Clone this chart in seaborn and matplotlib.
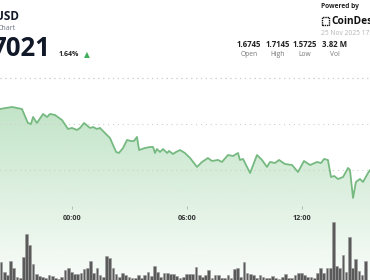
import numpy as np
import matplotlib
matplotlib.use("Agg")
import matplotlib.pyplot as plt
import matplotlib.transforms as mtransforms
from matplotlib.patches import Polygon, Rectangle
import seaborn as sns

# ---------------- data ----------------
price_hours = [-3.76, -3.13, -2.61, -2.30, -2.14, -2.03, -1.83, -1.51, -1.30, -1.15,
               -0.89, -0.52, -0.21, 0.00, 0.26, 0.42, 0.63, 0.94, 1.10, 1.30,
               1.46, 1.77, 1.98, 2.30, 2.45, 2.66, 2.87, 3.08, 3.23, 3.39,
               3.50, 3.81, 4.07, 4.23, 4.33, 4.43, 4.59, 4.75, 4.96, 5.06,
               5.27, 5.43, 5.63, 5.89, 6.16, 6.52, 6.78, 7.09, 7.30, 7.62,
               7.82, 8.14, 8.40, 8.66, 8.76, 8.92, 9.29, 9.65, 9.91, 10.17,
               10.33, 10.59, 10.80, 11.11, 11.48, 11.79, 12.10, 12.42, 12.78, 12.99,
               13.15, 13.35, 13.51, 13.67, 13.88, 14.14, 14.40, 14.50, 14.66, 14.81,
               15.02, 15.18, 15.44, 15.55]
price_values = [1.7163, 1.7185, 1.7163, 1.7011, 1.7000, 1.7076, 1.7011, 1.7109, 1.7076, 1.7109,
                1.7098, 1.7043, 1.6946, 1.6957, 1.6935, 1.6957, 1.7011, 1.6957, 1.6967, 1.6946,
                1.6957, 1.6891, 1.6848, 1.6696, 1.6685, 1.6739, 1.6826, 1.6815, 1.6815, 1.6859,
                1.6717, 1.6739, 1.6750, 1.6750, 1.6685, 1.6728, 1.6696, 1.6728, 1.6685, 1.6707,
                1.6674, 1.6696, 1.6717, 1.6685, 1.6630, 1.6533, 1.6587, 1.6630, 1.6598, 1.6609,
                1.6587, 1.6663, 1.6652, 1.6685, 1.6609, 1.6620, 1.6467, 1.6663, 1.6609, 1.6533,
                1.6587, 1.6576, 1.6609, 1.6565, 1.6554, 1.6478, 1.6598, 1.6554, 1.6587, 1.6576,
                1.6620, 1.6609, 1.6424, 1.6435, 1.6402, 1.6424, 1.6522, 1.6500, 1.6196, 1.6370,
                1.6402, 1.6370, 1.6467, 1.6500]

# volume per 10-minute bar (thousands)
vol_values = [71, 33, 20, 76, 49, 13, 7, 91, 184, 140,
              64, 23, 17, 13, 9, 20, 17, 7, 4, 13,
              40, 49, 33, 23, 23, 27, 44, 47, 76, 27,
              47, 20, 13, 96, 89, 49, 23, 13, 27, 20,
              13, 9, 7, 20, 7, 20, 31, 17, 56, 33,
              13, 27, 27, 24, 23, 17, 7, 13,
              23, 23, 23, 53, 20, 13, 20, 40, 9, 20,
              20, 9, 7, 20, 7, 43, 49, 13, 71, 27,
              23, 20, 7, 20, 13, 7, 9, 17, 9, 4,
              13, 23, 7, 7, 20, 27, 27, 20, 13, 11,
              7, 27, 47, 27, 47, 47, 232, 57, 49, 100,
              33, 173, 49, 83, 36, 20, 76]
vol_start_hour = -3.70
vol_step_hour = 1 / 6

tick_hours = [0, 6, 12]
tick_labels = ["00:00", "06:00", "12:00"]
grid_prices = [1.75, 1.70, 1.65]

stat_values = ["1.6745", "1.7145", "1.5725", "3.82 M"]
stat_labels = ["Open", "High", "Low", "Vol"]

# ---------------- figure ----------------
W, H = 370, 280
sns.set_theme(style="white")
plt.rcParams['font.family'] = ['Open Sans', 'DejaVu Sans']
fig = plt.figure(figsize=(W / 100, H / 100), dpi=100)
fig.patch.set_facecolor('white')


def fx(px):
    return px / W


def fy(py):
    return 1 - py / H


x_lo, x_hi = -72 / 19.17, (370 - 72) / 19.17
y_lo, y_hi = 1.5304, 1.8348

ax = fig.add_axes([0, 0, 1, 1])
ax.set_xlim(x_lo, x_hi)
ax.set_ylim(y_lo, y_hi)
ax.axis('off')

# gradient fill under the line
grad = np.linspace(0, 1, 256).reshape(-1, 1)
rgba = np.zeros((256, 1, 4))
rgba[..., 0] = 120 / 255
rgba[..., 1] = 195 / 255
rgba[..., 2] = 132 / 255
rgba[..., 3] = (0.05 + 0.40 * grad)[:, 0:1]
top = max(price_values)
img = ax.imshow(rgba, extent=[x_lo, x_hi, y_lo, top], origin='lower',
                aspect='auto', zorder=1, interpolation='bilinear')
poly_pts = [(price_hours[0], y_lo)] + list(zip(price_hours, price_values)) + [(price_hours[-1], y_lo)]
poly = Polygon(poly_pts, closed=True, facecolor='none', edgecolor='none')
ax.add_patch(poly)
img.set_clip_path(poly)
ax.set_xlim(x_lo, x_hi)
ax.set_ylim(y_lo, y_hi)

# dotted grid lines
for gp in grid_prices:
    ax.axhline(gp, color='#cfcfcf', lw=0.8, ls=(0, (1.0, 3.4)), zorder=2)

sns.lineplot(x=price_hours, y=price_values, ax=ax, color='#76b981', lw=1.3,
             estimator=None, zorder=4)
ax.set_xlim(x_lo, x_hi)
ax.set_ylim(y_lo, y_hi)
ax.axis('off')

# volume bars
axv = fig.add_axes([0, 0, 1, 1], sharex=ax)
axv.patch.set_alpha(0)
vol_hours = [vol_start_hour + i * vol_step_hour for i in range(len(vol_values))]
axv.bar(vol_hours, vol_values, width=vol_step_hour * 0.85, color='#5a5a5a',
        edgecolor='#9c9c9c', linewidth=0.4, align='center')
axv.set_ylim(0, 1120)
axv.set_xlim(x_lo, x_hi)
axv.axis('off')

# time ticks and labels
trans = mtransforms.blended_transform_factory(ax.transData, fig.transFigure)
ax.vlines(tick_hours, fy(209), fy(206), transform=trans, color='#b0b0b0', lw=0.6, zorder=5)
for th, tl in zip(tick_hours, tick_labels):
    ax.text(th, fy(219), tl, transform=trans, ha='center', va='center',
            fontsize=5.2, fontweight='bold', color='#333333', zorder=6)

# header (left)
fig.text(fx(18.5), fy(17), "USD", ha='right', va='center', fontsize=8.5,
         fontweight='bold', color='#111827')
fig.text(fx(16), fy(28), "Chart", ha='right', va='center', fontsize=5.0, color='#6b7280')
fig.text(fx(50.5), fy(48), "7021", ha='right', va='center', fontsize=18.5,
         fontweight='bold', color='#111827')
fig.text(fx(59), fy(54.5), "1.64%", ha='left', va='center', fontsize=5,
         fontweight='bold', color='#222222')
fig.text(fx(86.5), fy(54.5), "\u25B2", ha='center', va='center', fontsize=5.5,
         color='#3fae5c', family=['DejaVu Sans'])

# header (right)
fig.text(fx(321), fy(7), "Powered by", ha='left', va='center', fontsize=4.8,
         fontweight='bold', color='#222222')
fig.patches.append(Rectangle((fx(321.5), fy(24.5)), fx(7), 7 / H, transform=fig.transFigure,
                             fill=False, edgecolor='#111111', lw=1.0, ls=(0, (1, 0.6))))
fig.text(fx(331), fy(21), "CoinDesk", ha='left', va='center', fontsize=7.3,
         fontweight='bold', color='#111111')
fig.text(fx(321), fy(33.5), "25 Nov 2025 17:30 UTC", ha='left', va='center',
         fontsize=4.8, color='#b5b5b5')

stat_centers = [249, 278, 304.5, 334.5]
for cx, v, l in zip(stat_centers, stat_values, stat_labels):
    fig.text(fx(cx), fy(44.5), v, ha='center', va='center', fontsize=5.6,
             fontweight='bold', color='#222222')
    fig.text(fx(cx), fy(54.5), l, ha='center', va='center', fontsize=4.8,
             color='#777777')

# top dotted separator
ax.axhline(y_hi - (78 / H) * (y_hi - y_lo), color='#cfcfcf', lw=0.8,
           ls=(0, (1.0, 3.4)), zorder=2)

fig.savefig("out.png", dpi=100, facecolor='white')
